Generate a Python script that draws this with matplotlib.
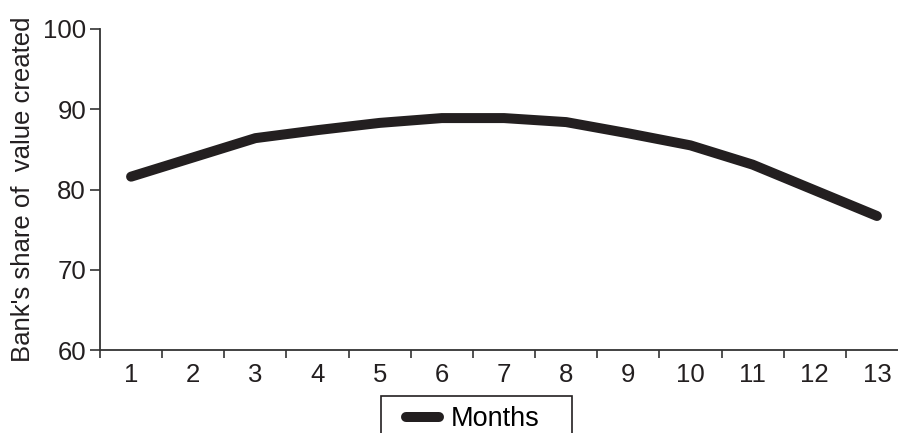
import matplotlib.pyplot as plt
from matplotlib.patches import Rectangle
from matplotlib.ticker import FixedLocator

plt.rcParams["font.family"] = ["Liberation Sans", "DejaVu Sans"]

months = list(range(1, 14))
bank_share = [81.6, 84.0, 86.4, 87.4, 88.3, 88.9, 88.9, 88.4, 87.0, 85.5, 83.1, 79.9, 76.7]
y_ticks = [60, 70, 80, 90, 100]

W, H = 898, 433
fig = plt.figure(figsize=(W / 100, H / 100), dpi=100)
ax = fig.add_axes([100 / W, 1 - 350 / H, 808 / W, 321 / H])

ax.plot(months, bank_share, color="#231f20", linewidth=7.2,
        solid_capstyle="round", solid_joinstyle="round", label="Months")

ax.set_xlim(0.5, 13.5)
ax.set_ylim(60, 100)
ax.set_yticks(y_ticks)
ax.set_xticks(months)
ax.xaxis.set_minor_locator(FixedLocator([m - 0.5 for m in months] + [13.5]))

for side in ("top", "right"):
    ax.spines[side].set_visible(False)
for side in ("left", "bottom"):
    ax.spines[side].set_color("#333333")
    ax.spines[side].set_linewidth(1.3)

ax.tick_params(axis="x", which="major", length=0, labelsize=18.5, pad=9, colors="#231f20")
ax.tick_params(axis="x", which="minor", length=6, width=1.2, color="#333333")
ax.tick_params(axis="y", length=7, width=1.2, color="#333333", labelsize=18.5,
               pad=3, labelcolor="#231f20")

ax.set_ylabel("Bank's share of  value created", fontsize=18.5, color="#231f20", labelpad=6)

# legend without its own frame; the box is drawn separately and runs off the bottom edge
fig.legend(loc="center left", bbox_to_anchor=(406 / W, 1 - 419 / H),
           fontsize=19.5, frameon=False, handlelength=1.2, handletextpad=0.45,
           borderpad=0, borderaxespad=0)
fig.patches.append(Rectangle((381 / W, -0.05), 191 / W, 0.05 + 1 - 396 / H,
                             transform=fig.transFigure, fill=False,
                             edgecolor="#231f20", linewidth=1.2))

fig.savefig("out.png", dpi=100)
